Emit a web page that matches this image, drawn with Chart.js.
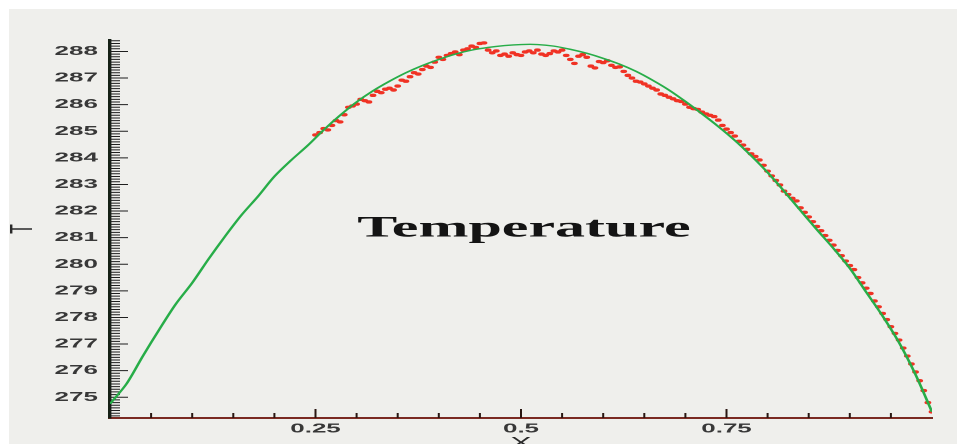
<!DOCTYPE html>
<html>
<head>
<meta charset="utf-8">
<script src="https://cdn.jsdelivr.net/npm/chart.js@4.4.1/dist/chart.umd.min.js"></script>
<style>
  html, body { margin: 0; padding: 0; background: #fff; overflow: hidden; }
  /* the plot is laid out at half width and stretched sideways, like the original figure */
  #wrap { position: absolute; left: 0; top: 0; width: 483px; height: 444px; transform: scaleX(2); transform-origin: 0 0; }
</style>
</head>
<body>
<div id="wrap"><canvas id="tempChart"></canvas></div>
<script>
// model profile (green line)
const greenX = [0, 0.02, 0.04, 0.06, 0.08, 0.1, 0.12, 0.14, 0.16, 0.18,
  0.2, 0.22, 0.24, 0.26, 0.28, 0.3, 0.32, 0.34, 0.36, 0.38,
  0.4, 0.42, 0.44, 0.46, 0.48, 0.5, 0.52, 0.54, 0.56, 0.58,
  0.6, 0.62, 0.64, 0.66, 0.68, 0.7, 0.72, 0.74, 0.76, 0.78,
  0.8, 0.82, 0.84, 0.86, 0.88, 0.9, 0.92, 0.94, 0.96, 0.98, 1];
const greenT = [274.75, 275.5, 276.55, 277.55, 278.5, 279.3, 280.2, 281.05, 281.85, 282.55,
  283.3, 283.9, 284.45, 285.05, 285.6, 286.1, 286.52, 286.88, 287.2, 287.47,
  287.7, 287.9, 288.05, 288.15, 288.22, 288.26, 288.26, 288.2, 288.08, 287.93,
  287.74, 287.52, 287.25, 286.92, 286.55, 286.12, 285.66, 285.18, 284.66, 284.08,
  283.45, 282.75, 282.02, 281.3, 280.6, 279.85, 278.95, 278.05, 277.05, 275.85, 274.45];

// measured points (red dots)
const redX = [0.25, 0.255, 0.26, 0.265, 0.27, 0.275, 0.28, 0.285, 0.29, 0.295,
  0.3, 0.305, 0.31, 0.315, 0.32, 0.325, 0.33, 0.335, 0.34, 0.345,
  0.35, 0.355, 0.36, 0.365, 0.37, 0.375, 0.38, 0.385, 0.39, 0.395,
  0.4, 0.405, 0.41, 0.415, 0.42, 0.425, 0.43, 0.435, 0.44, 0.445,
  0.45, 0.455, 0.46, 0.465, 0.47, 0.475, 0.48, 0.485, 0.49, 0.495,
  0.5, 0.505, 0.51, 0.515, 0.52, 0.525, 0.53, 0.535, 0.54, 0.545,
  0.55, 0.555, 0.56, 0.565, 0.57, 0.575, 0.58, 0.585, 0.59, 0.595,
  0.6, 0.605, 0.61, 0.615, 0.62, 0.625, 0.63, 0.635, 0.64, 0.645,
  0.65, 0.655, 0.66, 0.665, 0.67, 0.675, 0.68, 0.685, 0.69, 0.695,
  0.7, 0.705, 0.71, 0.715, 0.72, 0.725, 0.73, 0.735, 0.74, 0.745,
  0.75, 0.755, 0.76, 0.765, 0.77, 0.775, 0.78, 0.785, 0.79, 0.795,
  0.8, 0.805, 0.81, 0.815, 0.82, 0.825, 0.83, 0.835, 0.84, 0.845,
  0.85, 0.855, 0.86, 0.865, 0.87, 0.875, 0.88, 0.885, 0.89, 0.895,
  0.9, 0.905, 0.91, 0.915, 0.92, 0.925, 0.93, 0.935, 0.94, 0.945,
  0.95, 0.955, 0.96, 0.965, 0.97, 0.975, 0.98, 0.985, 0.99, 0.995, 1];
const redT = [284.86, 284.95, 285.1, 285.05, 285.22, 285.4, 285.35, 285.62, 285.9, 285.95,
  286.02, 286.2, 286.15, 286.1, 286.35, 286.5, 286.45, 286.58, 286.62, 286.55,
  286.7, 286.92, 286.88, 287.05, 287.2, 287.15, 287.32, 287.45, 287.4, 287.6,
  287.78, 287.7, 287.85, 287.92, 287.98, 287.88, 288.05, 288.1, 288.2, 288.15,
  288.3, 288.32, 288.05, 287.95, 288.02, 287.85, 287.9, 287.82, 287.95, 287.88,
  287.85, 287.98, 288.02, 287.95, 288.05, 287.9, 287.85, 287.92, 288.02, 287.98,
  288.05, 287.85, 287.7, 287.55, 287.82, 287.88, 287.78, 287.45, 287.38, 287.62,
  287.58, 287.65, 287.48, 287.4, 287.42, 287.25, 287.1, 287.0, 286.88, 286.85,
  286.78, 286.7, 286.62, 286.55, 286.4, 286.35, 286.28, 286.22, 286.15, 286.12,
  286.02, 285.9, 285.85, 285.82, 285.72, 285.65, 285.6, 285.55, 285.42, 285.22,
  285.08, 284.95, 284.82, 284.62, 284.48, 284.32, 284.15, 284.05, 283.92, 283.72,
  283.5, 283.32, 283.15, 282.98, 282.75, 282.62, 282.48, 282.38, 282.12, 281.95,
  281.78, 281.6, 281.42, 281.26, 281.08, 280.9, 280.72, 280.52, 280.32, 280.12,
  279.95, 279.8, 279.5, 279.3, 279.1, 278.9, 278.62, 278.4, 278.15, 277.92,
  277.65, 277.4, 277.15, 276.85, 276.55, 276.25, 275.95, 275.62, 275.25, 274.8, 274.45];

const xTickValues = [0.25, 0.5, 0.75];
const xTickLabels = ['0.25', '0.5', '0.75'];
const yTickValues = [275, 276, 277, 278, 279, 280, 281, 282, 283, 284, 285, 286, 287, 288];
const yTickLabels = ['275', '276', '277', '278', '279', '280', '281', '282', '283', '284', '285', '286', '287', '288'];

// grey panel behind everything
const backdrop = {
  id: 'backdrop',
  beforeDraw(chart) {
    const ctx = chart.ctx;
    ctx.save();
    ctx.fillStyle = '#efefec';
    ctx.fillRect(4.5, 9, 474, 435);
    ctx.restore();
  }
};

// tick marks pointing into the plot, long on the labelled values
const inwardTicks = {
  id: 'inwardTicks',
  beforeDatasetsDraw(chart) {
    const { ctx, chartArea, scales: { x, y } } = chart;
    ctx.save();
    ctx.lineWidth = 1;
    ctx.strokeStyle = '#1e1e1e';
    ctx.beginPath();
    for (let k = 2743; k <= 2884; k++) {
      const py = y.getPixelForValue(k / 10);
      const len = k % 10 === 0 ? 9 : 5;
      ctx.moveTo(chartArea.left, py);
      ctx.lineTo(chartArea.left + len, py);
    }
    ctx.stroke();
    ctx.strokeStyle = '#2a1712';
    ctx.beginPath();
    for (let k = 1; k < 20; k++) {
      const px = x.getPixelForValue(k / 20);
      const len = k % 5 === 0 ? 9 : 5;
      ctx.moveTo(px, chartArea.bottom);
      ctx.lineTo(px, chartArea.bottom - len);
    }
    ctx.stroke();
    ctx.restore();
  }
};

// caption in the middle of the plot
const caption = {
  id: 'caption',
  afterDraw(chart) {
    const ctx = chart.ctx;
    ctx.save();
    ctx.font = 'bold 30px "Liberation Serif"';
    ctx.fillStyle = '#141414';
    ctx.textAlign = 'center';
    ctx.textBaseline = 'alphabetic';
    ctx.fillText('Temperature', 262, 236.5);
    ctx.restore();
  }
};

const tickFont = { family: 'Liberation Sans', size: 13, weight: 'bold' };

new Chart(document.getElementById('tempChart'), {
  type: 'scatter',
  data: {
    datasets: [
      {
        label: 'model',
        data: greenX.map((x, i) => ({ x: x, y: greenT[i] })),
        showLine: true,
        borderColor: '#27ad48',
        borderWidth: 1.4,
        pointRadius: 0,
        tension: 0.3,
      },
      {
        label: 'measured',
        data: redX.map((x, i) => ({ x: x, y: redT[i] })),
        showLine: false,
        pointRadius: 1.7,
        pointBackgroundColor: '#f03224',
        pointBorderWidth: 0,
      },
    ],
  },
  options: {
    responsive: true,
    maintainAspectRatio: false,
    devicePixelRatio: 2,
    animation: false,
    layout: { padding: { top: 40, right: 17, bottom: 0, left: 0 } },
    plugins: {
      legend: { display: false },
      tooltip: { enabled: false },
    },
    scales: {
      x: {
        type: 'linear',
        min: 0,
        max: 1,
        grid: { display: false, drawTicks: false },
        border: { display: true, color: '#7a2a22', width: 2 },
        afterBuildTicks: (scale) => { scale.ticks = xTickValues.map((v) => ({ value: v })); },
        afterFit: (scale) => { scale.height = 26; },
        ticks: {
          autoSkip: false,
          maxRotation: 0,
          padding: 3,
          color: '#383838',
          font: tickFont,
          callback: (value, index) => xTickLabels[index],
        },
        title: {
          display: true,
          text: 'X',
          color: '#2a2a2a',
          font: { family: 'Liberation Sans', size: 16 },
          padding: { top: 0, bottom: -9 },
        },
      },
      y: {
        type: 'linear',
        min: 274.22,
        max: 288.43,
        grid: { display: false, drawTicks: false },
        border: { display: true, color: '#152015', width: 1.7 },
        afterBuildTicks: (scale) => { scale.ticks = yTickValues.map((v) => ({ value: v })); },
        afterFit: (scale) => { scale.width = 55; },
        ticks: {
          autoSkip: false,
          padding: 6,
          color: '#383838',
          font: tickFont,
          callback: (value, index) => yTickLabels[index],
        },
        title: {
          display: true,
          text: 'T',
          color: '#2a2a2a',
          font: { family: 'Liberation Sans', size: 16 },
          padding: { top: 2, bottom: 0 },
        },
      },
    },
  },
  plugins: [backdrop, inwardTicks, caption],
});
</script>
</body>
</html>
